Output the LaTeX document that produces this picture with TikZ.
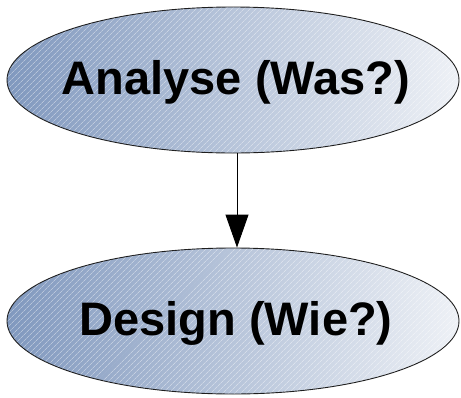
\documentclass[tikz,border=0pt]{standalone}
\usepackage{fontspec}
\setmainfont{Liberation Sans}
\usetikzlibrary{shapes.geometric,arrows.meta,patterns.meta}
\definecolor{ellL}{RGB}{128,152,190}
\definecolor{ellR}{RGB}{238,241,246}
\definecolor{edge}{RGB}{30,30,30}
\tikzset{
  phase/.style={ellipse, draw=edge, line width=0.9pt, minimum width=452pt, minimum height=146pt,
    inner sep=0pt, left color=ellL, right color=ellR},
  hatch/.style={pattern={Lines[angle=45, distance=4pt, line width=0.8pt]}, pattern color=white, fill opacity=0.4},
  label/.style={font=\fontsize{47}{50}\selectfont\bfseries},
  flow/.style={draw=black, line width=0.9pt, -{Triangle[width=23pt,length=33pt]}}
}
\begin{document}
\begin{tikzpicture}[x=1pt,y=-1pt]
\useasboundingbox (0,0) rectangle (461,397);
\node[phase] (a) at (233,80) {};
\path[hatch] (a.center) ellipse [x radius=225.5pt, y radius=72.5pt];
\node[label] (at) at (236,82) {Analyse (Was?)};
\node[phase] (d) at (233,321) {};
\path[hatch] (d.center) ellipse [x radius=225.5pt, y radius=72.5pt];
\node[label] (dt) at (236,323) {Design (Wie?)};
\draw[flow] (a.south -| 237,0) -- (d.north -| 237,0);
\end{tikzpicture}
\end{document}
